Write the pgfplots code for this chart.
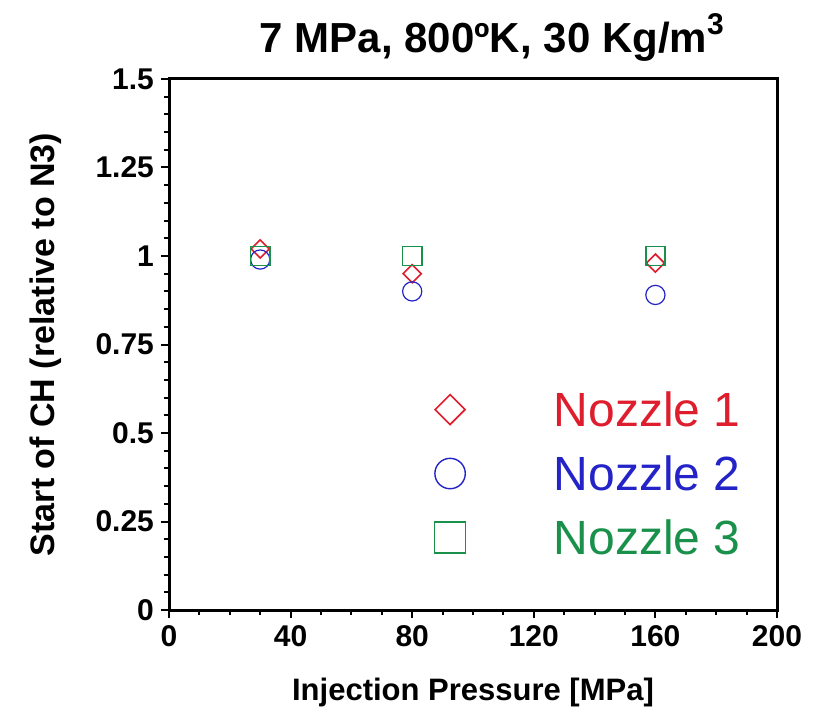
\documentclass[border=0pt]{standalone}
\usepackage{pgfplots}
\pgfplotsset{compat=1.18}
\usepackage{fontspec}
\setmainfont{Liberation Sans}
\definecolor{nred}{RGB}{222,30,45}
\definecolor{nblue}{RGB}{35,35,200}
\definecolor{ngreen}{RGB}{25,145,75}
\begin{document}
\begin{tikzpicture}
\begin{axis}[
  scale only axis,
  width=304pt, height=265.5pt,
  xmin=0, xmax=200, ymin=0, ymax=1.5,
  xtick={0,40,80,120,160,200},
  ytick={0,0.25,0.5,0.75,1,1.25,1.5},
  yticklabels={0,0.25,0.5,0.75,1,1.25,1.5},
  minor x tick num=3,
  minor y tick num=4,
  xtick pos=left, ytick pos=left,
  tick align=outside,
  major tick length=4pt,
  minor tick length=2.5pt,
  every tick/.style={black, line width=1pt},
  axis line style={line width=1.5pt},
  /pgf/number format/assume math mode=true,
  ticklabel style={font=\fontsize{15}{18}\selectfont\bfseries},
  xlabel={Injection Pressure [MPa]},
  ylabel={Start of CH (relative to N3)},
  xlabel style={font=\fontsize{15.5}{18}\selectfont\bfseries, at={(axis description cs:0.5,-0.17)}, anchor=base},
  ylabel style={font=\fontsize{17}{20}\selectfont\bfseries, at={(axis description cs:-0.1875,0.5)}, anchor=base, rotate=0},
  title={7 MPa, 800ºK, 30 Kg/m\raisebox{0.42em}{\fontsize{15}{15}\selectfont 3}},
  title style={font=\fontsize{21}{24}\selectfont\bfseries, at={(axis description cs:0.531,1.028)}, anchor=base},
  legend cell align=left,
  legend image code/.code={\draw[#1] plot coordinates {(0pt,0pt)};},
  legend style={draw=none, fill=none, inner sep=0pt,
    at={(axis description cs:0.436,0.257)}, anchor=west,
    font=\fontsize{24}{28}\selectfont,
    row sep=11pt,
    nodes={inner sep=2pt, text height=17pt, text depth=0pt},
    /tikz/every odd column/.append style={column sep=42pt}},
]
\addplot[only marks, mark=square, mark size=3.2pt, mark options={rotate=45, nred, line width=0.8pt}, forget plot]
  coordinates {(30,1.02) (80,0.95) (160,0.98)};
\addplot[only marks, mark=o, mark size=4.8pt, mark options={nblue, line width=0.6pt}, forget plot]
  coordinates {(30,0.99) (80,0.90) (160,0.89)};
\addplot[only marks, mark=square, mark size=4.8pt, mark options={ngreen, line width=0.8pt}, forget plot]
  coordinates {(30,1.00) (80,1.00) (160,1.00)};
\addlegendimage{only marks, mark=square, mark size=5.3pt, mark options={rotate=45, nred, line width=0.8pt}}
\addlegendentry{\textcolor{nred}{Nozzle 1}}
\addlegendimage{only marks, mark=o, mark size=7.6pt, mark options={nblue, line width=0.7pt}}
\addlegendentry{\textcolor{nblue}{Nozzle 2}}
\addlegendimage{only marks, mark=square, mark size=7.8pt, mark options={ngreen, line width=0.8pt}}
\addlegendentry{\textcolor{ngreen}{Nozzle 3}}
\end{axis}
\pgfresetboundingbox
\path[use as bounding box] (-84.5pt,-51pt) rectangle (324.5pt,305pt);
\end{tikzpicture}
\end{document}
